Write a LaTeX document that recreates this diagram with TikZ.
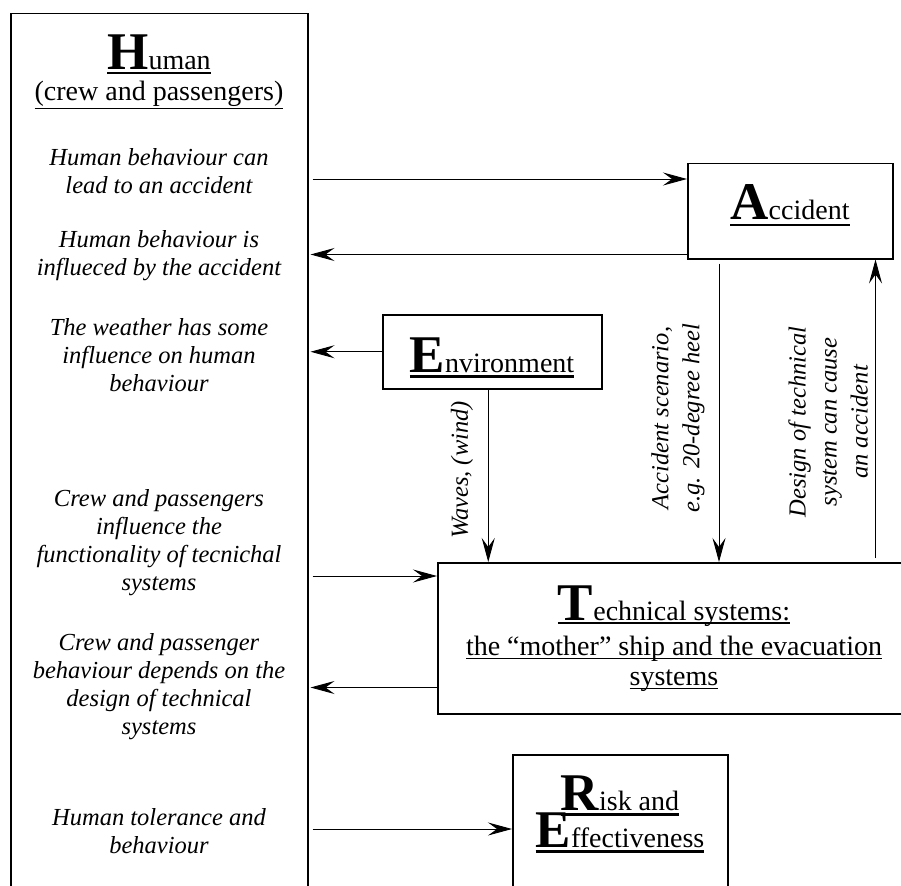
\documentclass[tikz,border=0pt]{standalone}
\usepackage{fontspec}
\setmainfont{Liberation Serif}
\usetikzlibrary{arrows.meta,calc}
\newcommand\myul[3]{\setbox0=\hbox{#3}\leavevmode\rlap{\vrule height -#1 depth \dimexpr#1+#2\relax width \wd0}\box0}
\newcommand\bigini[1]{{\fontsize{53}{53}\selectfont\bfseries #1}}
\begin{document}
\begin{tikzpicture}[x=1pt,y=-1pt,
  box/.style={draw, line width=1.5pt, inner sep=0pt, anchor=north west},
  arr/.style={-{Stealth[length=24pt,width=13pt,inset=9pt]}, line width=0.9pt},
  lbl/.style={font=\fontsize{24.5}{28}\selectfont\itshape, align=center, inner sep=0pt},
  rlbl/.style={font=\fontsize{24.5}{31}\selectfont\itshape, align=center, rotate=90, inner sep=0pt},
  ttl/.style={font=\fontsize{28}{32}\selectfont, anchor=base, inner sep=0pt}]
\useasboundingbox (0,0) rectangle (901,885);
\clip (0,0) rectangle (901,885);
% boxes
\node[box, minimum width=297pt, minimum height=900pt] (human) at (10,13) {};
\node[box, minimum width=205pt, minimum height=95pt] (acc) at (687,163) {};
\node[box, minimum width=219pt, minimum height=74pt] (env) at (382,314) {};
\node[box, minimum width=474pt, minimum height=151pt] (tech) at (437,562) {};
\node[box, minimum width=215pt, minimum height=200pt] (risk) at (512,754) {};
% titles
\node[ttl] (htitle) at (159,70) {\myul{2pt}{2.5pt}{\bigini{H}uman}};
\node[ttl] (hsub) at (159,101) {\myul{7pt}{1.4pt}{(crew and passengers)}};
\node[ttl] (atitle) at (790,220) {\myul{4pt}{2.5pt}{\bigini{A}ccident}};
\node[ttl] (etitle) at (492,372) {\myul{3pt}{2.5pt}{\bigini{E}nvironment}};
\node[ttl] (ttitle) at (674,620) {\myul{2pt}{2pt}{\bigini{T}echnical systems:}};
\node[ttl] (tsub1) at (674,655) {\myul{3pt}{1.4pt}{the “mother” ship and the evacuation}};
\node[ttl] (tsub2) at (674,685) {\myul{3pt}{1.4pt}{systems}};
\node[ttl] (rtitle1) at (620,810) {\myul{3pt}{2.5pt}{\bigini{R}isk and}};
\node[ttl] (rtitle2) at (620,847) {\myul{3pt}{2.5pt}{\bigini{E}ffectiveness}};
% labels in human box
\node[lbl] (g1) at (159,171) {Human behaviour can\\lead to an accident};
\node[lbl] (g2) at (159,256) {Human behaviour is\\influeced by the accident};
\node[lbl] (g3) at (159,355) {The weather has some\\influence on human\\behaviour};
\node[lbl] (g4) at (159,543) {Crew and passengers\\influence the\\functionality of tecnichal\\systems};
\node[lbl] (g5) at (159,687) {Crew and passenger\\behaviour depends on the\\design of technical\\systems};
\node[lbl] (g6) at (159,831) {Human tolerance and\\behaviour};
% rotated labels
\node[rlbl] (lw) at (462,470) {Waves, (wind)};
\node[rlbl] (la) at (678,418) {Accident scenario,\\e.g. 20-degree heel};
\node[rlbl] (ld) at (828,422) {Design of technical\\system can cause\\an accident};
% connector points
\coordinate (accIn) at ($(acc.north west)+(0,16)$);
\coordinate (accOut) at ($(acc.south west)+(0,-5)$);
\coordinate (envOut) at ($(env.south)+(-4,0)$);
\coordinate (accDown) at ($(acc.south west)+(32,4)$);
\coordinate (accUp) at ($(acc.south east)+(-18,0)$);
\coordinate (techIn) at ($(tech.north west)+(0,14)$);
\coordinate (techOut) at ($(tech.south west)+(1,-27)$);
\coordinate (riskIn) at ($(risk.north west)+(0,75)$);
% connectors
\draw[arr, shorten <=4pt] (human.east |- accIn) -- (accIn);
\draw[arr, shorten >=2pt] (accOut) -- (accOut -| human.east);
\draw[arr, shorten >=2pt] (env.west) -- (env.west -| human.east);
\draw[arr] (envOut) -- (envOut |- tech.north);
\draw[arr] (accDown) -- (accDown |- tech.north);
\draw[arr, shorten <=4pt] (accUp |- tech.north) -- (accUp);
\draw[arr, shorten <=4pt] (human.east |- techIn) -- (techIn);
\draw[arr, shorten >=2pt] (techOut) -- (techOut -| human.east);
\draw[arr, shorten <=4pt] (human.east |- riskIn) -- (riskIn);
\end{tikzpicture}
\end{document}
